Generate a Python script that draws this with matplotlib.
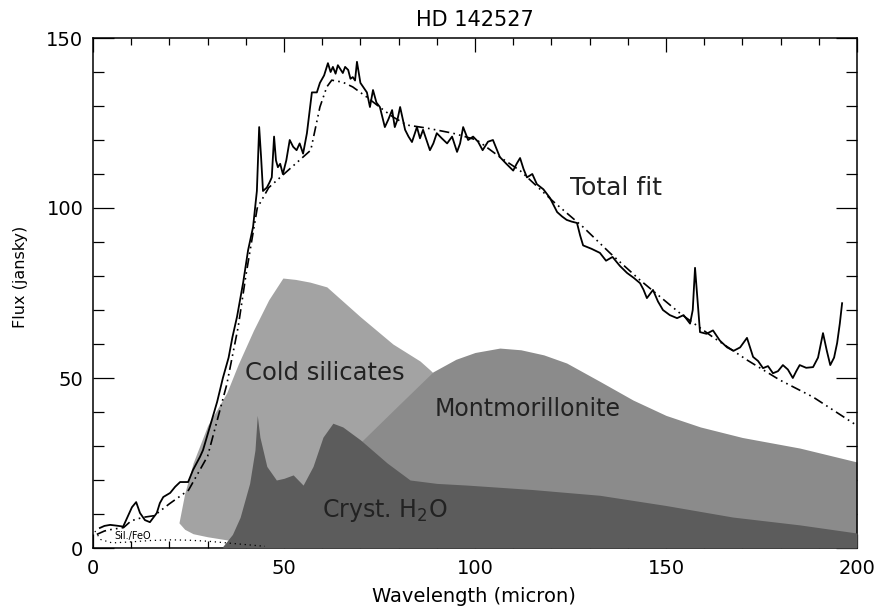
import matplotlib
matplotlib.use("Agg")
import matplotlib.pyplot as plt
from matplotlib.ticker import MultipleLocator

# ---- data ----
obs_x = [1.8, 3.0, 4.5, 6.0, 7.9, 9.0, 10.2, 11.3, 12.3, 13.6, 14.9, 16.7, 17.5, 18.4, 20.2, 21.5,
         22.8, 24.9, 26.2, 28.0, 28.8, 29.8, 31.1, 32.5, 34.0, 35.5, 36.5, 37.7, 39.3, 40.6, 41.9,
         42.9, 43.5, 44.0, 44.5, 45.5, 46.2, 46.8, 47.4, 47.9, 48.4, 49.0, 49.7, 50.6, 51.5, 52.4,
         53.3, 54.1, 55.0, 56.0, 57.3, 58.6, 59.4, 60.5, 61.5, 62.2, 62.8, 63.5, 64.1, 65.4, 66.0,
         66.8, 67.4, 68.0, 68.6, 69.1, 70.0, 70.8, 71.7, 72.5, 73.3, 74.2, 75.1, 76.4, 77.3, 78.3,
         79.0, 79.7, 80.4, 81.7, 82.6, 83.5, 84.8, 85.6, 86.4, 87.3, 88.2, 89.1, 90.0, 91.3, 92.7,
         94.0, 95.3, 96.1, 96.9, 98.2, 99.5, 100.8, 102.0, 103.4, 104.7, 105.6, 106.5, 108.2,
         110.0, 110.9, 111.8, 112.7, 113.6, 115.0, 116.2, 117.9, 119.6, 120.5, 121.5, 122.8,
         124.0, 125.3, 126.7, 127.5, 128.3, 130.5, 132.7, 134.3, 136.0, 137.9, 139.8, 141.5,
         143.2, 144.1, 145.0, 146.6, 147.9, 149.2, 151.0, 152.9, 154.6, 156.3, 157.0, 157.6,
         158.1, 158.9, 160.6, 162.3, 164.1, 166.0, 167.7, 169.4, 171.2, 172.8, 174.1, 175.4,
         176.7, 178.0, 179.3, 180.6, 181.9, 183.2, 184.1, 185.0, 186.7, 188.5, 189.8, 191.1,
         192.1, 193.0, 194.0, 194.8, 195.5, 196.1]
obs_y = [5.9, 6.5, 6.8, 6.6, 6.3, 9.0, 12.0, 13.5, 10.3, 8.2, 7.6, 10.3, 13.2, 15.0, 16.2, 18.0,
         19.4, 19.4, 23.0, 26.8, 28.8, 32.6, 37.6, 43.0, 50.0, 56.0, 62.0, 68.0, 78.0, 87.6, 94.4,
         105.0, 123.8, 115.0, 105.0, 106.0, 107.5, 109.0, 121.0, 114.0, 112.0, 113.0, 110.0, 114.0,
         120.0, 118.0, 117.0, 119.0, 116.0, 122.0, 134.0, 134.0, 136.8, 139.0, 142.6, 140.0,
         141.5, 139.5, 142.0, 139.7, 141.5, 140.6, 138.0, 138.5, 137.5, 143.0, 136.8, 135.5,
         134.0, 129.7, 134.7, 131.0, 129.7, 123.8, 126.0, 128.8, 123.8, 126.0, 129.7, 123.0,
         121.0, 119.4, 123.8, 120.5, 123.0, 120.0, 117.0, 119.0, 122.0, 120.5, 119.0, 121.0,
         116.5, 119.0, 123.8, 120.0, 121.0, 119.5, 117.0, 119.5, 120.0, 117.5, 115.0, 113.0,
         111.0, 113.0, 114.7, 111.5, 109.0, 110.0, 107.0, 105.5, 103.0, 101.0, 98.8, 97.5,
         96.5, 96.0, 95.6, 92.0, 89.0, 88.0, 86.8, 84.5, 85.6, 83.0, 80.9, 79.5,
         77.9, 76.0, 73.5, 75.9, 72.5, 70.0, 68.5, 67.6, 68.5, 66.0, 70.0, 82.4,
         75.0, 63.5, 63.0, 64.0, 61.0, 59.0, 58.0, 59.0, 61.8, 56.2, 55.0, 52.9,
         53.5, 51.4, 52.0, 53.8, 52.5, 50.0, 52.0, 53.8, 53.0, 53.2, 56.0, 63.2,
         58.0, 53.8, 56.0, 60.3, 66.0, 72.0]

fit_x = [1, 3, 5, 8, 10, 13, 16, 20, 25, 30, 35, 38, 40, 43, 46, 50, 55, 57, 59.4, 61.2, 62.5,
         65.4, 68, 71.7, 75, 78.5, 82.2, 87.4, 94.2, 100.5, 106.5, 111.8, 120.4, 128.3, 135.3,
         143.2, 153.7, 162.3, 171.2, 179.8, 188.5, 200]
fit_y = [4, 5, 5.5, 6, 8, 9, 9.5, 13, 17, 27, 48, 65, 80, 100, 106, 110, 115, 117, 129.7, 135.6,
         137.6, 137, 135.6, 132.6, 129.7, 126.8, 124.4, 123.5, 122, 120, 115, 111, 102, 94.4,
         86.8, 78.8, 69, 62, 55.3, 49.4, 44.4, 36]

cold_x = [22.5, 24, 26.2, 30, 35, 38, 42, 46, 49.7, 53, 56.8, 61.2, 65, 70, 78.5, 85.6, 88.2,
          95, 105, 120, 140, 160, 180, 200]
cold_top = [7.4, 16, 25, 36, 45.6, 54, 64, 73, 79.4, 79, 78.2, 76.8, 73, 68, 60, 55, 52.4,
            45, 37, 27, 17, 10, 6, 4]
cold_low = [7.4, 5.5, 4.2, 3.3, 2.4, 2.0, 1.3, 0.7, 0.3, 0, 0, 0, 0, 0, 0, 0, 0,
            0, 0, 0, 0, 0, 0, 0]

mont_x = [35, 45, 55, 63, 70.7, 80, 89, 95, 100, 106.5, 112, 118, 124, 132.7, 141.4, 150, 159,
          170, 185, 200]
mont_y = [0, 5, 14, 24, 31.8, 42, 51.8, 55.5, 57.5, 58.8, 58.3, 56.8, 54.4, 49, 43.5, 39, 35.6,
          32.5, 29.4, 25.3]

h2o_x = [34, 36.5, 38.5, 41, 42.4, 43, 43.7, 45.5, 48, 50, 52.4, 55, 57.6, 60.2, 62.8, 65.4, 70,
         77, 83, 90, 98, 115, 132.7, 150, 167.5, 185, 200]
h2o_y = [0.5, 4, 9, 19, 28.8, 39, 32.6, 24, 20, 20.5, 21.5, 18.5, 24, 32.6, 36.7, 35.6, 31.8,
         25, 20, 19, 18.5, 17.2, 15.5, 12.5, 9.1, 6.8, 4.4]

sil_x = [0.5, 2, 5, 10, 15, 20, 25, 30, 35, 40, 45]
sil_y = [5.0, 2.5, 1.5, 1.8, 2.2, 2.4, 2.3, 2.0, 1.5, 1.0, 0.5]

# ---- figure ----
plt.rcParams['font.family'] = ['DejaVu Sans']
fig = plt.figure(figsize=(8.77, 6.07), dpi=100)
ax = fig.add_axes([93/877, 59/607, 764/877, 510/607])

ax.fill_between(cold_x, cold_low, cold_top, color='#a3a3a3', lw=0, zorder=1)
ax.fill_between(mont_x, 0, mont_y, color='#8b8b8b', lw=0, zorder=2)
ax.fill_between(h2o_x, 0, h2o_y, color='#5c5c5c', lw=0, zorder=3)

ax.plot(sil_x, sil_y, color='black', lw=0.9, ls=(0, (1, 3)), zorder=4)
ax.plot(fit_x, fit_y, color='black', lw=1.2, ls=(0, (6, 2.5, 1, 2.5, 1, 2.5)), zorder=5)
ax.plot(obs_x, obs_y, color='black', lw=1.3, zorder=6)

ax.set_xlim(0, 200)
ax.set_ylim(0, 150)
ax.xaxis.set_major_locator(MultipleLocator(50))
ax.xaxis.set_minor_locator(MultipleLocator(10))
ax.yaxis.set_major_locator(MultipleLocator(50))
ax.yaxis.set_minor_locator(MultipleLocator(10))
ax.tick_params(which='both', direction='in', top=True, right=True, width=0.9)
ax.tick_params(axis='x', which='major', length=10, pad=8, labelsize=14)
ax.tick_params(axis='x', which='minor', length=5)
ax.tick_params(axis='y', which='major', length=15, pad=7, labelsize=14)
ax.tick_params(axis='y', which='minor', length=8)
for s in ax.spines.values():
    s.set_linewidth(1.1)

txt = dict(color='#222222', zorder=7, ha='left', va='center')
ax.text(124.9, 106, 'Total fit', fontsize=18, **txt)
ax.text(39.8, 51.5, 'Cold silicates', fontsize=17.5, **txt)
ax.text(89.5, 41, 'Montmorillonite', fontsize=17, **txt)
ax.text(60, 11, 'Cryst. H$_2$O', fontsize=17, **txt)
ax.text(10.5, 3.5, 'Sil./FeO', ha='center', va='center', fontsize=7, zorder=7)

fig.text(475/877, 1 - 20/607, 'HD 142527', ha='center', va='center', fontsize=15)
fig.text(474/877, 1 - 597/607, 'Wavelength (micron)', ha='center', va='center', fontsize=14)
fig.text(21/877, 1 - 277/607, 'Flux (jansky)', ha='center', va='center', rotation=90, fontsize=11.5)

fig.savefig('out.png', dpi=100)
